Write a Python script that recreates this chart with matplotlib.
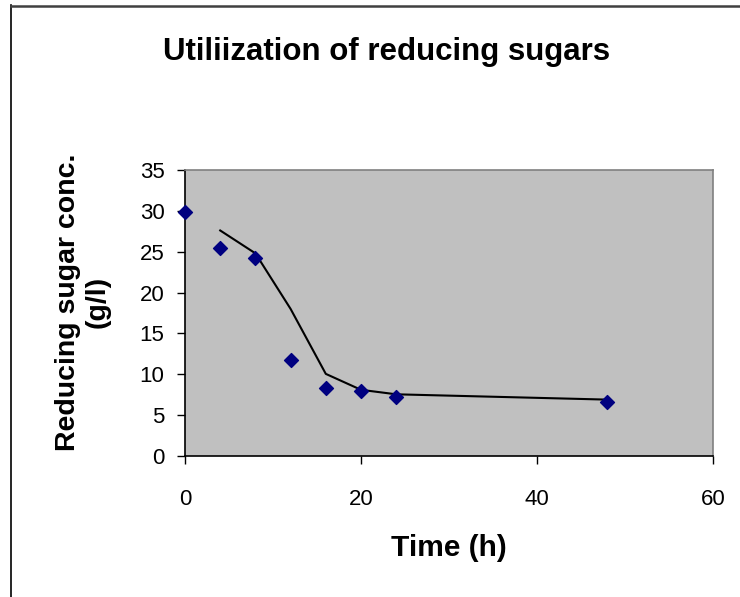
import matplotlib
matplotlib.use("Agg")
import matplotlib.pyplot as plt
from matplotlib.lines import Line2D

time_h = [0, 4, 8, 12, 16, 20, 24, 48]
sugar = [29.8, 25.4, 24.2, 11.8, 8.3, 7.9, 7.2, 6.6]
trend_x = [4, 8, 12, 16, 20, 24, 48]
trend_y = [27.6, 24.8, 18.0, 10.05, 8.1, 7.55, 6.9]
xticks = [0, 20, 40, 60]
yticks = [0, 5, 10, 15, 20, 25, 30, 35]

plt.rcParams['font.family'] = ['Liberation Sans', 'DejaVu Sans']

fig = plt.figure(figsize=(7.4, 5.97), dpi=100)
W, H = 740, 597
ax = fig.add_axes([185 / W, 1 - 456 / H, (713 - 185) / W, (456 - 170) / H])
ax.set_facecolor('#C0C0C0')

ax.plot(trend_x, trend_y, color='black', lw=1.5, zorder=2)
ax.scatter(time_h, sugar, marker='D', s=50, color='#000080', zorder=3, clip_on=False)

ax.set_xlim(0, 60)
ax.set_ylim(0, 35)
ax.set_xticks(xticks)
ax.set_yticks(yticks)
ax.tick_params(axis='both', direction='out', length=5.8, width=1, labelsize=16)
ax.tick_params(axis='y', pad=9)
ax.tick_params(axis='x', pad=18)
for side in ['left', 'bottom']:
    ax.spines[side].set_color('black')
    ax.spines[side].set_linewidth(1.2)
for side in ['top', 'right']:
    ax.spines[side].set_color('#808080')
    ax.spines[side].set_linewidth(1.2)

fig.text(449 / W, 1 - 548 / H, 'Time (h)', ha='center', va='center',
         fontsize=21.5, fontweight='bold')
fig.text(83 / W, 1 - 302 / H, 'Reducing sugar conc.\n(g/l)', ha='center', va='center',
         rotation=90, multialignment='center', fontsize=20.5, fontweight='bold',
         linespacing=1.2)

fig.text(387 / W, 1 - 52 / H, 'Utiliization of reducing sugars', ha='center', va='center',
         fontsize=22.5, fontweight='bold')

# outer frame lines
fig.add_artist(Line2D([11 / W, 11 / W], [0, 1 - 5 / H], transform=fig.transFigure,
                      color='black', lw=1.2))
fig.add_artist(Line2D([11 / W, 1], [1 - 5.5 / H, 1 - 5.5 / H], transform=fig.transFigure,
                      color='#404040', lw=1.8))

fig.savefig('out.png', dpi=100)
